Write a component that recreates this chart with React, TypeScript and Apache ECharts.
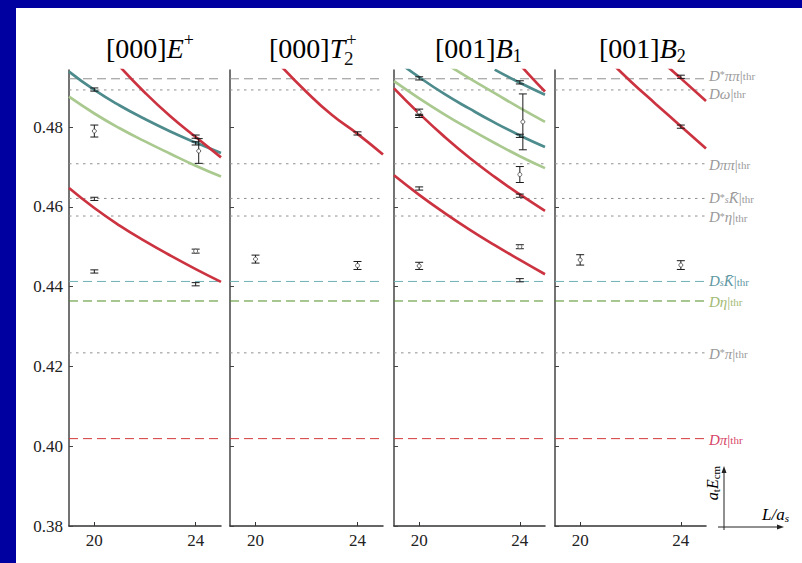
import React, { useEffect, useRef } from "react";
import * as echarts from "echarts";

// ---------------- data ----------------
const xTicks = [20, 24];
const yTicks = [0.38, 0.4, 0.42, 0.44, 0.46, 0.48];

const panelTitles = ["[000]E+", "[000]T2+", "[001]B1", "[001]B2"];

// thresholds (a_t E_cm)
const thresholdNames = ["D*ππ", "Dω", "Dππ", "D*sK̄", "D*η", "DsK̄", "Dη", "D*π", "Dπ"];
const thresholdValues = [0.4921, 0.4893, 0.4708, 0.4621, 0.4577, 0.4413, 0.4364, 0.4234, 0.4019];
const thresholdLabels = [
  "{i|D}{sup|*}{i|ππ}{n||}{sub|thr}",
  "{i|Dω}{n||}{sub|thr}",
  "{i|Dππ}{n||}{sub|thr}",
  "{i|D}{sup|*}{subi|s}{i|K\u0304}{n||}{sub|thr}",
  "{i|D}{sup|*}{i|η}{n||}{sub|thr}",
  "{i|D}{subi|s}{i|K\u0304}{n||}{sub|thr}",
  "{i|Dη}{n||}{sub|thr}",
  "{i|D}{sup|*}{i|π}{n||}{sub|thr}",
  "{i|Dπ}{n||}{sub|thr}",
];

// non-interacting curves [L/a_s, a_t E]
const e000Red1 = [[19, 0.4647], [20, 0.4597], [21, 0.4553], [22, 0.4514], [23, 0.4478], [24, 0.4444], [25, 0.4412]];
const e000Teal = [[19, 0.4939], [20, 0.4893], [21, 0.4854], [22, 0.482], [23, 0.4789], [24, 0.4761], [25, 0.4735]];
const e000Green = [[19, 0.4876], [20, 0.4834], [21, 0.4797], [22, 0.4764], [23, 0.4733], [24, 0.4703], [25, 0.4676]];
const e000Red2 = [[21, 0.4952], [22, 0.4886], [23, 0.4827], [24, 0.4775], [25, 0.4724]];

const t2Red = [[21, 0.4953], [22, 0.4888], [23, 0.483], [24, 0.4783], [25, 0.4731]];

const b1Red1 = [[19, 0.4679], [20, 0.463], [21, 0.4585], [22, 0.4543], [23, 0.4504], [24, 0.4467], [25, 0.4431]];
const b1Red2 = [[19, 0.4897], [20, 0.4834], [21, 0.4776], [22, 0.4723], [23, 0.4675], [24, 0.4631], [25, 0.459]];
const b1Green1 = [[19, 0.4915], [20, 0.4872], [21, 0.4832], [22, 0.4795], [23, 0.476], [24, 0.4727], [25, 0.4697]];
const b1Teal1 = [[19, 0.4971], [20, 0.4925], [21, 0.4883], [22, 0.4846], [23, 0.4811], [24, 0.4779], [25, 0.475]];
const b1Green2 = [[21, 0.4961], [22, 0.4922], [23, 0.4885], [24, 0.4848], [25, 0.4813]];
const b1Teal2 = [[23, 0.4944], [24, 0.4911], [25, 0.4881]];
const b1Red3 = [[24, 0.4957], [24.5, 0.4922], [25, 0.4889]];

const b2Red1 = [[21, 0.4976], [22, 0.4915], [23, 0.4858], [24, 0.4802], [25, 0.4746]];
const b2Red2 = [[23.5, 0.495], [24, 0.4922], [25, 0.4865]];

// lattice levels [L/a_s, a_t E, error, open-circle marker]
const e000Levels = [
  [20, 0.4894, 0.0004, 0], [20, 0.479, 0.0015, 1], [20, 0.462, 0.0004, 0], [20, 0.4438, 0.0004, 0],
  [24, 0.4776, 0.0004, 0], [24, 0.4759, 0.0004, 0], [24.12, 0.474, 0.0031, 1], [24, 0.4489, 0.0005, 1], [24, 0.4406, 0.0004, 0],
];
const t2Levels = [[20, 0.4469, 0.001, 1], [24, 0.4453, 0.001, 1], [24, 0.4784, 0.0004, 0]];
const b1Levels = [
  [20, 0.4922, 0.0004, 0], [20, 0.4837, 0.0008, 1], [20, 0.4828, 0.0004, 0], [20, 0.4646, 0.0004, 0], [20, 0.4452, 0.0009, 1],
  [24, 0.4912, 0.0004, 0], [24.12, 0.4813, 0.007, 1], [24, 0.4778, 0.0004, 0], [24, 0.4681, 0.002, 1],
  [24, 0.4628, 0.0004, 0], [24, 0.45, 0.0005, 1], [24, 0.4416, 0.0004, 0],
];
const b2Levels = [[24, 0.4926, 0.0004, 0], [24, 0.4801, 0.0004, 0], [20, 0.4467, 0.0013, 1], [24, 0.4454, 0.0011, 1]];

// ---------------- styles / layout ----------------
const SERIF = "Liberation Serif, DejaVu Serif, serif";
const RED = "#cc3340";
const TEAL = "#4e8b8d";
const GREEN = "#a9c98f";

const X_MIN = 19;
const X_MAX = 25;
const Y_MIN = 0.38;
const Y_MAX = 0.4943;

const grids = [
  { left: 69, width: 152 },
  { left: 230, width: 153 },
  { left: 394, width: 151 },
  { left: 555, width: 151 },
];
const GRID_TOP = 70;
const GRID_H = 456;

const curvesByPanel: [number[][], string][][] = [
  [[e000Red1, RED], [e000Green, GREEN], [e000Teal, TEAL], [e000Red2, RED]],
  [[t2Red, RED]],
  [[b1Red1, RED], [b1Red2, RED], [b1Green1, GREEN], [b1Teal1, TEAL], [b1Green2, GREEN], [b1Teal2, TEAL], [b1Red3, RED]],
  [[b2Red1, RED], [b2Red2, RED]],
];
const levelsByPanel = [e000Levels, t2Levels, b1Levels, b2Levels];

const GRAY = "#8f8f8f";
const DOT = [2.5, 4.5];
const DASH = [9, 5];
const thrStyle = [
  { color: GRAY, type: DASH, label: "#9a9a9a", dy: -3 },
  { color: GRAY, type: DOT, label: "#9a9a9a", dy: 4 },
  { color: GRAY, type: DOT, label: "#9a9a9a", dy: 1 },
  { color: GRAY, type: DOT, label: "#9a9a9a", dy: 0 },
  { color: GRAY, type: DOT, label: "#9a9a9a", dy: 1 },
  { color: "#6fb0b4", type: DASH, label: "#5f99a3", dy: 0 },
  { color: "#4f8f22", type: DASH, label: "#a3bb74", dy: 1 },
  { color: GRAY, type: DOT, label: "#9a9a9a", dy: 1 },
  { color: "#d33a3a", type: DASH, label: "#d64466", dy: 1 },
];

const labRich = (color: string) => ({
  i: { fontFamily: SERIF, fontStyle: "italic", fontSize: 15, color, lineHeight: 12 },
  n: { fontFamily: SERIF, fontSize: 15, color, lineHeight: 12 },
  sup: { fontFamily: SERIF, fontSize: 10, color, lineHeight: 12, verticalAlign: "top" },
  subi: { fontFamily: SERIF, fontStyle: "italic", fontSize: 10, color, lineHeight: 12, verticalAlign: "bottom" },
  sub: { fontFamily: SERIF, fontSize: 11, color, lineHeight: 12, verticalAlign: "bottom" },
});

const tickRich = { t: { fontFamily: SERIF, fontSize: 17, color: "#222" } };

const titleRich = {
  n: { fontFamily: SERIF, fontSize: 28, color: "#111", lineHeight: 34 },
  i: { fontFamily: SERIF, fontStyle: "italic", fontSize: 28, color: "#111", lineHeight: 34 },
  sup: { fontFamily: SERIF, fontSize: 18, color: "#111", lineHeight: 34, verticalAlign: "top" },
  sub: { fontFamily: SERIF, fontSize: 18, color: "#111", lineHeight: 34, verticalAlign: "bottom" },
};

function buildOption() {
  const series: any[] = [];
  grids.forEach((_, p) => {
    thresholdValues.forEach((v, k) => {
      const st = thrStyle[k];
      series.push({
        type: "line",
        name: thresholdNames[k],
        xAxisIndex: p,
        yAxisIndex: p,
        data: [[X_MIN, v], [X_MAX, v]],
        symbol: "none",
        silent: true,
        z: 1,
        lineStyle: { color: st.color, width: 1, type: st.type },
        endLabel:
          p === 3
            ? {
                show: true,
                distance: 3,
                offset: [0, st.dy],
                formatter: () => thresholdLabels[k],
                rich: labRich(st.label),
              }
            : { show: false },
      });
    });
    curvesByPanel[p].forEach(([pts, color]) => {
      series.push({
        type: "line",
        xAxisIndex: p,
        yAxisIndex: p,
        data: pts,
        symbol: "none",
        smooth: 0.5,
        silent: true,
        z: 2,
        lineStyle: { color, width: 2.7 },
      });
    });
    series.push({
      type: "custom",
      xAxisIndex: p,
      yAxisIndex: p,
      data: levelsByPanel[p],
      encode: { x: 0, y: 1 },
      z: 3,
      silent: true,
      renderItem: (params: any, api: any) => {
        const x = api.value(0);
        const y = api.value(1);
        const e = api.value(2);
        const c = api.value(3);
        const pt = api.coord([x, y]);
        const t = api.coord([x, y + e]);
        const b = api.coord([x, y - e]);
        const st = { stroke: "#1a1a1a", lineWidth: 1 };
        const children: any[] = [
          { type: "line", shape: { x1: pt[0], y1: t[1], x2: pt[0], y2: b[1] }, style: st },
          { type: "line", shape: { x1: pt[0] - 4, y1: t[1], x2: pt[0] + 4, y2: t[1] }, style: st },
          { type: "line", shape: { x1: pt[0] - 4, y1: b[1], x2: pt[0] + 4, y2: b[1] }, style: st },
        ];
        if (c) {
          children.push({
            type: "circle",
            shape: { cx: pt[0], cy: pt[1], r: 2 },
            style: { fill: "#fff", stroke: "#444", lineWidth: 0.8 },
          });
        }
        return { type: "group", children };
      },
    });
  });

  const graphic: any[] = [
    {
      type: "text",
      x: 106,
      y: 48,
      style: { text: "{n|[000]}{i|E}{sup|+}", rich: titleRich, verticalAlign: "middle", align: "left" },
    },
    {
      type: "text",
      x: 269,
      y: 48,
      style: { text: "{n|[000]}{i|T}", rich: titleRich, verticalAlign: "middle", align: "left" },
    },
    { type: "text", x: 346, y: 39, style: { text: "+", font: `19px ${SERIF}`, fill: "#111", verticalAlign: "middle" } },
    { type: "text", x: 344, y: 58, style: { text: "2", font: `19px ${SERIF}`, fill: "#111", verticalAlign: "middle" } },
    {
      type: "text",
      x: 435,
      y: 48,
      style: { text: "{n|[001]}{i|B}{sub|1}", rich: titleRich, verticalAlign: "middle", align: "left" },
    },
    {
      type: "text",
      x: 599,
      y: 48,
      style: { text: "{n|[001]}{i|B}{sub|2}", rich: titleRich, verticalAlign: "middle", align: "left" },
    },
    // axis key
    { type: "line", shape: { x1: 724, y1: 530, x2: 724, y2: 471 }, style: { stroke: "#222", lineWidth: 1 } },
    { type: "polygon", shape: { points: [[724, 466], [721.5, 473], [726.5, 473]] }, style: { fill: "#222" } },
    { type: "line", shape: { x1: 718, y1: 527, x2: 778, y2: 527 }, style: { stroke: "#222", lineWidth: 1 } },
    { type: "polygon", shape: { points: [[784, 527], [777, 524.5], [777, 529.5]] }, style: { fill: "#222" } },
    {
      type: "text",
      x: 712,
      y: 483,
      rotation: Math.PI / 2,
      style: {
        text: "{i|a}{sub|t}{i|E}{sub|cm}",
        rich: {
          i: { fontFamily: SERIF, fontStyle: "italic", fontSize: 16, color: "#333", lineHeight: 18 },
          sub: { fontFamily: SERIF, fontSize: 11, color: "#333", lineHeight: 18, verticalAlign: "bottom" },
        },
        align: "center",
        verticalAlign: "middle",
      },
    },
    {
      type: "text",
      x: 762,
      y: 514,
      style: {
        text: "{i|L/a}{sub|s}",
        rich: {
          i: { fontFamily: SERIF, fontStyle: "italic", fontSize: 17, color: "#333", lineHeight: 18 },
          sub: { fontFamily: SERIF, fontStyle: "italic", fontSize: 11, color: "#333", lineHeight: 18, verticalAlign: "bottom" },
        },
        align: "left",
        verticalAlign: "middle",
      },
    },
  ];

  return {
    animation: false,
    backgroundColor: "transparent",
    textStyle: { fontFamily: SERIF },
    grid: grids.map((g) => ({ left: g.left, width: g.width, top: GRID_TOP, height: GRID_H })),
    xAxis: grids.map((_, i) => ({
      gridIndex: i,
      type: "value",
      min: X_MIN,
      max: X_MAX,
      interval: 1,
      axisLine: { show: true, onZero: false, lineStyle: { color: "#333", width: 1.5 } },
      axisTick: { show: true, inside: true, length: 4, customValues: xTicks, lineStyle: { color: "#333" } },
      axisLabel: {
        show: true,
        customValues: xTicks,
        formatter: (v: number) => `{t|${Math.round(v)}}`,
        rich: tickRich,
        margin: 6,
      },
      splitLine: { show: false },
    })),
    yAxis: grids.map((_, i) => ({
      gridIndex: i,
      type: "value",
      min: Y_MIN,
      max: Y_MAX,
      interval: 0.02,
      axisLine: { show: true, onZero: false, lineStyle: { color: "#444", width: 1.5 } },
      axisTick: { show: true, inside: true, length: 4, customValues: yTicks, lineStyle: { color: "#444" } },
      axisLabel: {
        show: i === 0,
        customValues: yTicks,
        formatter: (v: number) => `{t|${v.toFixed(2)}}`,
        rich: tickRich,
        margin: 6,
      },
      splitLine: { show: false },
    })),
    series,
    graphic,
  };
}

export default function App() {
  const ref = useRef<HTMLDivElement>(null);
  useEffect(() => {
    document.body.style.margin = "0";
    const chart = echarts.init(ref.current!, null, { renderer: "svg" });
    chart.setOption(buildOption() as any);
    return () => chart.dispose();
  }, []);
  return (
    <div style={{ position: "relative", width: 802, height: 563, background: "#0000a0", overflow: "hidden" }}>
      <div style={{ position: "absolute", left: 16, top: 8, width: 786, height: 555, background: "#ffffff" }} />
      <div ref={ref} style={{ position: "absolute", left: 0, top: 0, width: 802, height: 563 }} />
    </div>
  );
}
